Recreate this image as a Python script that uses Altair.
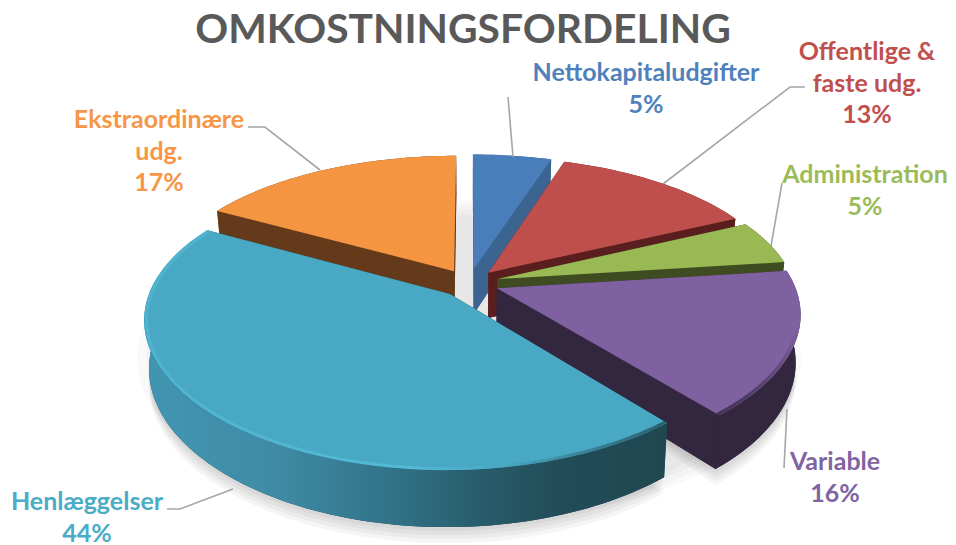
import math
import altair as alt
import pandas as pd

categories = ["Nettokapitaludgifter", "Offentlige & faste udg.", "Administration",
              "Variable", "Henlæggelser", "Ekstraordinære udg."]
shares = [5, 13, 5, 16, 44, 17]
top_colors = ["#4A7EBB", "#BE4F4C", "#98B954", "#7F60A0", "#49A9C4", "#F59541"]
wall_colors = ["#3B6491", "#5A1E1E", "#3F4B21", "#33273F", "#1F4750", "#643A1B"]
text_colors = ["#4F81BD", "#C0504D", "#9BBB59", "#8064A2", "#4BACC6", "#F79646"]
label_lines = [["Nettokapitaludgifter"], ["Offentlige &", "faste udg."], ["Administration"],
               ["Variable"], ["Henlæggelser"], ["Ekstraordinære", "udg."]]
label_anchor = [(646, 73), (867, 52), (865, 175), (835, 462), (87, 502), (159, 120)]
leaders = [[(508, 97), (513, 157)], [(805, 87), (790, 87), (663, 184)], [(782, 183), (771, 246)],
           [(787, 409), (784, 468)], [(167, 509), (180, 509), (233, 489)], [(248, 127), (265, 127), (320, 170)]]

CX, CY, R, RK, PX, PY, EXPLODE, H = 469, 283, 297, 140, 0.165, 0.18, 0.10, 46
XS = alt.Scale(domain=[8, 948], range=[0, 940], nice=False)
YS = alt.Scale(domain=[545, 8], range=[537, 0], nice=False)


def proj(u, v, z=0.0):
    sx = 1 / (1 - PX * v)
    sy = 1 / (1 - PY * v)
    x = CX + R * u * sx
    y = CY + RK * v * sy
    if z:
        x = CX + (x - CX) * (1 - 0.015 * z)
        y = y + H * sy * z
    return x, y


def sector(a0, a1, z=0.0):
    mid = (a0 + a1) / 2
    du, dv = EXPLODE * math.sin(mid), -EXPLODE * math.cos(mid)
    tip = proj(du, dv, z)
    n = max(4, int((a1 - a0) * 40))
    arc = []
    for i in range(n + 1):
        a = a0 + (a1 - a0) * i / n
        arc.append(proj(du + math.sin(a), dv - math.cos(a), z))
    return tip, arc


def poly(pts, **kw):
    df = pd.DataFrame({"x": [p[0] for p in pts], "y": [p[1] for p in pts], "i": range(len(pts))})
    return alt.Chart(df).mark_line(filled=True, strokeWidth=0, **kw).encode(
        x=alt.X("x:Q", scale=XS, axis=None), y=alt.Y("y:Q", scale=YS, axis=None), order="i:Q")


def path(pts, color, width, **kw):
    df = pd.DataFrame({"x": [p[0] for p in pts], "y": [p[1] for p in pts], "i": range(len(pts))})
    return alt.Chart(df).mark_line(stroke=color, strokeWidth=width, **kw).encode(
        x=alt.X("x:Q", scale=XS, axis=None), y=alt.Y("y:Q", scale=YS, axis=None), order="i:Q")


def grad(stops, vertical=False):
    return alt.Gradient(gradient="linear", x1=0, x2=0 if vertical else 1, y1=0, y2=1 if vertical else 0,
                        stops=[alt.GradientStop(offset=o, color=c) for o, c in stops])


total = sum(shares)
angles = []
acc = 0
for sh in shares:
    angles.append((acc / total * 2 * math.pi, (acc + sh) / total * 2 * math.pi))
    acc += sh

layers = []

# soft floor shadow
for sc, dy in [(1.10, 46), (1.07, 48), (1.04, 50), (1.01, 52)]:
    pts = []
    for i in range(121):
        a = i / 120 * 2 * math.pi
        x, y = proj(sc * math.sin(a), -sc * math.cos(a))
        pts.append((x, y + dy))
    layers.append(poly(pts, fill="#000000", opacity=0.024))

for idx in (3, 4):
    a0, a1 = angles[idx]
    for off in (4, 8, 12, 16):
        tip, arc = sector(a0, a1, z=1)
        layers.append(poly([tip] + [(x, y + off) for x, y in arc] + [tip], fill="#000000", opacity=0.04))

wall_teal = grad([(0, "#4296B2"), (0.25, "#3F8BA6"), (0.45, "#33758A"), (0.65, "#285C6B"),
                  (0.8, "#214C58"), (1, "#1F4750")])

# back to front
for idx in (5, 0, 1, 2, 3, 4):
    a0, a1 = angles[idx]
    tip, arc = sector(a0, a1)
    btip, barc = sector(a0, a1, z=1)
    wall = wall_colors[idx]
    layers.append(poly([btip] + barc + [btip], fill=wall))
    layers.append(poly([tip, arc[0], barc[0], btip], fill=wall))
    layers.append(poly([tip, arc[-1], barc[-1], btip], fill=wall))
    ribbon_fill = wall_teal if idx == 4 else wall
    layers.append(poly(arc + barc[::-1], fill=ribbon_fill))
    layers.append(poly([tip] + arc + [tip], fill=top_colors[idx]))
    if idx == 4:
        rim = [(x + (tip[0] - x) * 0.008, y + (tip[1] - y) * 0.008) for x, y in arc]
        layers.append(path(rim, grad([(0, "#50B6D6"), (0.5, "#58BFDD"), (0.68, "#49A9C4"),
                                      (0.88, "#2E6B7C"), (1, "#1F4750")]), 3, opacity=0.75))
    if idx == 3:
        rim = [(x + (tip[0] - x) * 0.008, y + (tip[1] - y) * 0.008) for x, y in arc]
        layers.append(path(rim, grad([(0, "#7F60A0"), (0.4, "#7F60A0"), (1, "#33273F")], vertical=True),
                           3, opacity=0.8))

# leader lines
for pts in leaders:
    layers.append(path(pts, "#A6A6A6", 1.6))

# labels
rows = []
LINE = 31.5
for cat, sh, col, lines, (ax, ay) in zip(categories, shares, text_colors, label_lines, label_anchor):
    for j, t in enumerate(lines + [f"{sh}%"]):
        rows.append({"t": t, "x": ax, "y": ay + j * LINE, "c": col})
text_df = pd.DataFrame(rows)
layers.append(alt.Chart(text_df).mark_text(font="Lato", fontWeight="bold", fontSize=25,
                                           align="center", baseline="middle").encode(
    x=alt.X("x:Q", scale=XS, axis=None), y=alt.Y("y:Q", scale=YS, axis=None),
    text="t:N", color=alt.Color("c:N", scale=None)))
layers.append(alt.Chart(pd.DataFrame({"t": ["OMKOSTNINGSFORDELING"], "x": [463], "y": [31]})).mark_text(
    font="Lato", fontWeight="bold", fontSize=40.8, color="#595959", align="center", baseline="middle").encode(
    x=alt.X("x:Q", scale=XS, axis=None), y=alt.Y("y:Q", scale=YS, axis=None), text="t:N"))

chart = alt.layer(*layers).properties(width=940, height=537, padding=0, autosize="none",
                                      background="white").configure_view(stroke=None)
chart.save("out.html", embed_options={"renderer": "svg", "actions": False})
